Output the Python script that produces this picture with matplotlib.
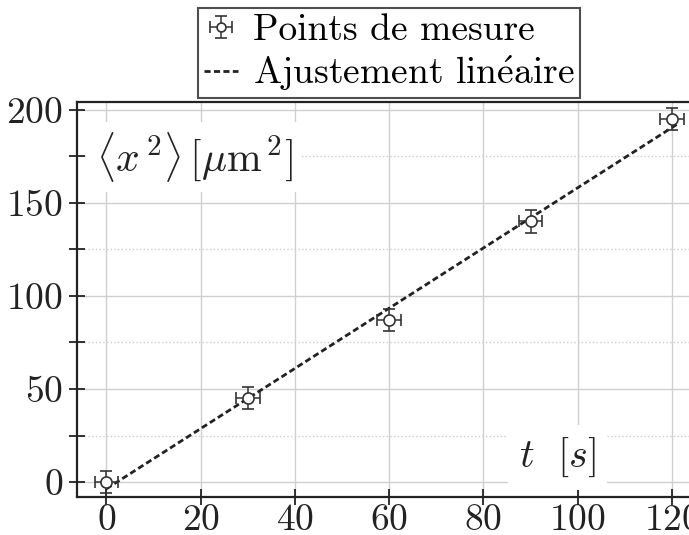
import numpy as np
import matplotlib.pyplot as plt
from matplotlib.ticker import MultipleLocator
from matplotlib.legend_handler import HandlerErrorbar

plt.rcParams['font.family'] = ['cmr10', 'DejaVu Serif']
plt.rcParams['mathtext.fontset'] = 'cm'
plt.rcParams['axes.formatter.use_mathtext'] = True

# mesures
t = np.array([0, 30, 60, 90, 120])
x2 = np.array([0, 45, 87, 140, 195])
err_t = np.array([2.5, 2.5, 2.5, 2.5, 2.5])
err_x2 = np.array([6, 6, 6, 6, 6])

# ajustement linéaire
a, b = np.polyfit(t, x2, 1)
t_fit = np.array([0, 121])
x2_fit = a * t_fit + b

fig = plt.figure(figsize=(6.89, 5.35), dpi=100)
ax = fig.add_axes([0.112, 0.071, 0.888, 0.738])

pts = ax.errorbar(t, x2, xerr=err_t, yerr=err_x2, fmt='o', color='#333333',
                  mfc='white', mec='#333333', ms=8, mew=1.2, elinewidth=1.1,
                  capsize=4, capthick=1.1, zorder=4)
fit, = ax.plot(t_fit, x2_fit, color='#222222', ls=(0, (2.2, 1.2)), lw=2,
               zorder=3)

ax.set_xlim(-6.2, 123.6)
ax.set_ylim(-8, 204)
ax.xaxis.set_major_locator(MultipleLocator(20))
ax.yaxis.set_major_locator(MultipleLocator(50))
ax.yaxis.set_minor_locator(MultipleLocator(25))

ax.grid(True, which='major', color='#d0d0d0', lw=1)
ax.grid(True, which='minor', axis='y', color='#cccccc', lw=1, ls=':')
ax.set_axisbelow(True)

for s in ['left', 'bottom', 'top']:
    ax.spines[s].set_linewidth(1.6)
    ax.spines[s].set_color('#222222')
ax.spines['right'].set_visible(False)

ax.tick_params(which='both', direction='inout', width=1.3, colors='#222222',
               labelsize=27, labelcolor='#222222')
ax.tick_params(which='major', length=12)
ax.tick_params(which='minor', length=12)
ax.tick_params(axis='x', pad=-1)
ax.tick_params(axis='y', pad=4)

ax.text(0.03, 0.86, r'$\langle x^{\,2}\rangle\,[\mu\mathrm{m}^{\,2}]$',
        transform=ax.transAxes, fontsize=30, va='center', ha='left',
        color='#222222', zorder=5,
        bbox=dict(facecolor='white', edgecolor='none', pad=6))

ax.text(0.785, 0.10, r'$t\ \ [s]$', transform=ax.transAxes, fontsize=29,
        va='center', ha='center', color='#222222', zorder=5,
        bbox=dict(facecolor='white', edgecolor='none', pad=8))

leg = ax.legend([pts, fit], ['Points de mesure', r'Ajustement lin$\acute{\mathrm{e}}$aire'],
                loc='lower center', bbox_to_anchor=(0.51, 1.0), fontsize=27,
                frameon=True, fancybox=False, edgecolor='#222222',
                handlelength=0.9, handletextpad=0.4, borderpad=0.15,
                labelspacing=0.15, borderaxespad=0.1, markerscale=0.8,
                handler_map={type(pts): HandlerErrorbar(xerr_size=0.3, yerr_size=0.3)})
leg.get_frame().set_linewidth(1.5)

fig.savefig('out.png', dpi=100)
